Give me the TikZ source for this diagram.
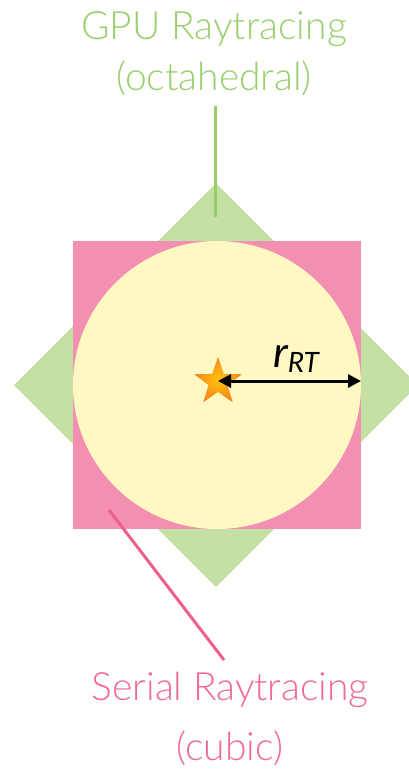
\documentclass[tikz,border=0pt]{standalone}
\usepackage{fontspec}
\setmainfont{Lato}
\newfontfamily\lightfont{Lato Light}
\usetikzlibrary{shapes.geometric,arrows.meta}
\definecolor{gfill}{HTML}{C5E0A5}
\definecolor{gline}{HTML}{98CE6A}
\definecolor{gtext}{HTML}{9ACF6E}
\definecolor{pfill}{HTML}{F38FB0}
\definecolor{pline}{HTML}{EE5F8A}
\definecolor{ptext}{HTML}{F06A92}
\definecolor{cfill}{HTML}{FFF8C2}
\definecolor{starin}{HTML}{FFC20E}
\definecolor{starout}{HTML}{F7841E}
\tikzset{
  lab/.style={anchor=base, inner sep=0pt, font=\lightfont\fontsize{39}{39}\selectfont},
  leader/.style={line width=3pt},
}
\begin{document}
\begin{tikzpicture}[x=1pt,y=-1pt]
\useasboundingbox (0,0) rectangle (409,769);
\begin{scope}
\clip (0,0) rectangle (409,769);
\fill[gfill] (216,183) -- (418,385) -- (216,587) -- (14,385) -- cycle;
\end{scope}
\fill[pfill] (73,241) rectangle (361,529);
\fill[cfill] (217,385) circle (144pt);
% labels
\node[lab, text=gtext] (gpu1) at (214,39) {GPU Raytracing};
\node[lab, text=gtext] (gpu2) at (214,90) {(octahedral)};
\node[lab, text=ptext] (ser1) at (230,700) {Serial Raytracing};
\node[lab, text=ptext] (ser2) at (230,760) {(cubic)};
% leaders
\coordinate (gtop) at (215,106);
\coordinate (gbot) at (215,217);
\draw[leader, gline] (gtop) -- (gbot);
\coordinate (ptop) at (109,510);
\coordinate (pbot) at (224,660);
\draw[leader, pline] (ptop) -- (pbot);
% star
\node[star, star points=5, star point ratio=2.5, minimum size=50pt, inner sep=0pt,
      inner color=starin, outer color=starout] (star) at (218,382) {};
% radius arrow
\coordinate (rend) at (361,381);
\coordinate (rstart) at (218,381);
\draw[line width=3pt, {Triangle[length=13pt,width=13pt]}-{Triangle[length=13pt,width=13pt]}] (rstart) -- (rend);
\node[anchor=base, inner sep=0pt] (rlab) at (296,367)
  {\fontsize{43}{43}\selectfont\itshape r\raisebox{-5pt}{\fontsize{28}{28}\selectfont RT}};
\end{tikzpicture}
\end{document}
